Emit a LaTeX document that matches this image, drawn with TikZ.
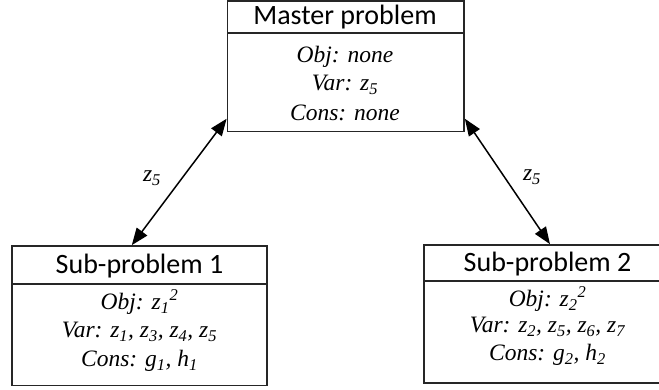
\documentclass[tikz,border=0pt]{standalone}
\usepackage{fontspec}
\setmainfont{Liberation Serif}
\newfontfamily\titlefont{Carlito}
\usetikzlibrary{arrows.meta,calc}

\tikzset{
  box/.style={draw=black!85, line width=1.7pt, rectangle, inner sep=0pt},
  divider/.style={draw=black!85, line width=1.7pt},
  title/.style={font=\titlefont\fontsize{28}{30}\selectfont, inner sep=0pt, anchor=center},
  entry/.style={font=\fontsize{23.5}{26}\selectfont\itshape, inner sep=0pt, anchor=center},
  link/.style={line width=1.5pt, {Triangle[length=17pt,width=13pt]}-{Triangle[length=17pt,width=13pt]}},
  tag/.style={font=\fontsize{23.5}{26}\selectfont\itshape, inner sep=0pt}
}

\begin{document}
\begin{tikzpicture}[x=1pt,y=-1pt]
  \useasboundingbox (0,0) rectangle (659,390);
  \clip (0,0) rectangle (659,390);
  \fill[white] (0,0) rectangle (659,390);

  % frames
  \node[box, minimum width=236.5pt, minimum height=130.5pt] (master) at (345.75,66.25) {};
  \node[box, minimum width=255pt, minimum height=139.5pt] (sub1) at (139.5,315.75) {};
  \node[box, minimum width=247pt, minimum height=138pt] (sub2) at (547.5,314) {};

  % heading separators
  \draw[divider] (227.5,33) -- (464,33);
  \draw[divider] (12,284) -- (267,284);
  \draw[divider] (424,281) -- (671,281);

  % master problem
  \node[title] (mt) at (345,17) {Master problem};
  \node[entry] (mo) at (345,57) {Obj: none};
  \node[entry] (mv) at (345,85) {Var: z\textsubscript{5}};
  \node[entry] (mc) at (345,113) {Cons: none};

  % sub-problem 1
  \node[title] (st1) at (139.5,266) {Sub-problem 1};
  \node[entry] (so1) at (139.5,302) {Obj: z\textsubscript{1}\textsuperscript{2}};
  \node[entry] (sv1) at (139.5,332) {Var: z\textsubscript{1}, z\textsubscript{3}, z\textsubscript{4}, z\textsubscript{5}};
  \node[entry] (sc1) at (139.5,361) {Cons: g\textsubscript{1}, h\textsubscript{1}};

  % sub-problem 2
  \node[title] (st2) at (547.5,264) {Sub-problem 2};
  \node[entry] (so2) at (547.5,299) {Obj: z\textsubscript{2}\textsuperscript{2}};
  \node[entry] (sv2) at (547.5,327) {Var: z\textsubscript{2}, z\textsubscript{5}, z\textsubscript{6}, z\textsubscript{7}};
  \node[entry] (sc2) at (547.5,355) {Cons: g\textsubscript{2}, h\textsubscript{2}};

  % coupling variable exchange
  \draw[link] ($(master.south west)!0.103!(master.north west)$) -- ($(sub1.north west)!0.47!(sub1.north east)$);
  \draw[link] ($(master.south east)!0.103!(master.north east)$) -- ($(sub2.north west)!0.51!(sub2.north east)$);

  \node[tag] (z5a) at (152,178) {z\textsubscript{5}};
  \node[tag] (z5b) at (532,177) {z\textsubscript{5}};
\end{tikzpicture}
\end{document}
